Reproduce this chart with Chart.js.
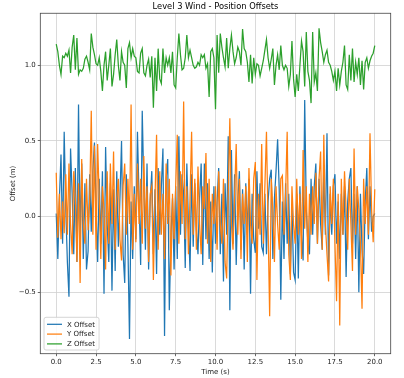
<!DOCTYPE html>
<html><head><meta charset="utf-8">
<script src="https://cdn.jsdelivr.net/npm/chart.js@4.4.1/dist/chart.umd.min.js"></script>
<style>html,body{margin:0;padding:0;background:#fff;}canvas{display:block;}</style>
</head><body>
<canvas id="c" width="404" height="378"></canvas>
<script>
const chartTitle = 'Level 3 Wind - Position Offsets';
const xAxisTitle = 'Time (s)';
const yAxisTitle = 'Offset (m)';
const seriesNames = ['X Offset', 'Y Offset', 'Z Offset'];
const timeStep = 0.1;
const xTickValues = [0, 2.5, 5, 7.5, 10, 12.5, 15, 17.5, 20];
const yTickValues = [-0.5, 0, 0.5, 1.0];

const xOffset = [
0.02,-0.28,0.12,0.41,-0.18,0.56,0.05,-0.30,-0.53,0.45,
0.15,-0.25,0.32,-0.30,0.74,-0.15,0.35,-0.28,0.22,-0.35,
-0.23,0.28,-0.10,0.30,0.49,0.05,-0.30,0.25,-0.18,0.30,
-0.51,0.46,-0.05,-0.30,0.22,-0.49,0.18,-0.36,0.30,-0.20,
0.12,0.50,-0.25,-0.44,0.28,-0.18,-0.81,0.10,-0.28,0.20,
-0.15,0.56,0.12,-0.32,0.70,0.20,-0.22,0.35,-0.35,0.10,
0.30,-0.25,0.18,-0.38,0.32,-0.12,0.20,0.45,-0.79,0.25,
0.38,-0.62,-0.15,0.12,-0.35,0.20,-0.28,0.53,-0.12,0.28,
0.15,-0.34,0.35,-0.05,-0.36,0.28,-0.20,0.22,-0.08,-0.25,
0.12,0.35,-0.32,0.35,-0.15,0.22,-0.28,0.10,-0.37,0.20,
-0.18,0.10,0.32,-0.25,0.15,-0.43,0.22,-0.12,0.53,-0.62,
0.44,-0.18,0.28,-0.32,0.10,0.30,-0.22,0.18,-0.35,0.22,
-0.12,0.25,-0.51,0.15,-0.15,-0.24,0.30,-0.08,0.22,-0.20,
-0.24,0.15,-0.25,0.10,0.25,0.31,-0.28,0.12,0.30,0.51,
0.18,-0.55,0.10,-0.28,0.22,-0.18,0.15,-0.38,0.08,-0.37,
-0.42,0.15,-0.41,0.20,-0.12,-0.29,0.77,0.05,-0.18,-0.25,
0.25,-0.12,0.20,0.35,-0.18,0.25,-0.05,-0.22,0.30,-0.12,
0.55,-0.39,0.15,-0.12,0.20,0.28,-0.18,0.10,-0.28,0.15,
-0.12,0.20,-0.40,0.10,0.25,0.32,-0.18,0.15,-0.28,0.20,
-0.50,0.15,-0.22,-0.38,0.10,0.32,-0.15,0.20,-0.10,0.00,
0.02
];
const yOffset = [
0.29,-0.14,0.15,-0.15,0.10,-0.11,0.28,-0.12,0.35,-0.05,
-0.25,0.30,0.12,-0.30,0.22,-0.44,0.38,-0.05,-0.18,0.25,
-0.09,0.10,0.70,-0.12,0.47,-0.22,0.48,0.12,-0.28,0.20,
0.05,-0.35,0.30,-0.18,0.35,-0.05,0.43,-0.22,0.12,0.25,
-0.15,-0.29,0.20,0.35,-0.12,0.25,-0.05,0.74,-0.22,0.15,
-0.17,0.35,-0.05,0.25,-0.18,0.40,-0.08,0.20,-0.30,0.15,
0.20,-0.42,0.12,0.54,-0.22,0.30,-0.12,0.15,-0.28,0.35,
-0.05,0.25,-0.39,0.15,-0.15,0.20,0.54,-0.18,0.30,-0.05,
0.76,-0.15,0.20,-0.25,0.12,0.56,-0.12,0.25,-0.22,0.33,
-0.05,-0.25,0.20,0.05,0.42,-0.18,0.25,-0.30,0.15,-0.05,
0.20,-0.22,0.30,-0.05,-0.18,0.25,-0.30,-0.41,0.15,0.65,
-0.05,-0.22,0.15,0.48,-0.12,0.25,-0.28,0.15,-0.05,0.20,
-0.30,0.32,-0.05,-0.18,0.25,0.36,-0.42,0.15,-0.12,0.48,
-0.18,0.20,0.56,-0.05,-0.66,0.25,0.05,-0.30,0.20,-0.05,
-0.22,0.25,0.27,-0.12,0.15,0.56,-0.25,-0.42,0.20,-0.05,
-0.18,0.25,-0.12,0.15,-0.28,0.44,-0.08,0.20,-0.30,0.15,
-0.12,0.20,-0.05,0.29,-0.18,0.25,0.43,-0.22,0.54,-0.05,
-0.25,-0.43,0.20,-0.05,0.25,-0.18,-0.56,0.15,-0.72,0.25,
-0.12,0.30,0.05,-0.22,0.25,-0.05,-0.36,0.45,-0.12,0.20,
0.05,-0.18,-0.61,0.25,-0.05,0.20,-0.12,0.55,0.05,-0.17,
0.18
];
const zOffset = [
1.14,1.09,1.00,0.94,1.06,1.05,1.08,1.06,1.10,0.95,
1.12,1.20,0.97,1.18,0.94,0.97,0.96,0.98,1.04,1.06,
1.02,0.97,1.21,1.12,1.07,1.01,1.00,1.05,0.96,0.83,
1.00,1.09,0.90,1.00,1.11,0.86,0.94,1.07,1.17,1.00,
0.90,1.09,1.02,1.00,0.85,1.11,1.15,1.05,1.11,1.06,
1.05,0.96,0.95,1.08,1.11,0.95,0.93,1.00,1.04,0.92,
1.06,0.72,1.05,0.83,1.11,0.91,0.88,1.11,0.95,1.05,
1.00,1.05,0.95,1.09,0.87,0.85,1.05,1.21,1.07,0.97,
0.98,1.05,1.20,1.05,1.10,1.05,1.00,0.98,0.99,1.02,
1.00,1.07,1.05,1.07,0.98,1.01,0.79,1.09,1.11,1.05,
0.71,1.20,0.95,1.21,1.12,1.05,0.99,1.18,0.98,1.11,
1.20,1.09,1.01,1.05,1.12,1.09,1.00,1.24,1.11,1.09,
1.02,0.89,1.07,0.88,1.05,0.94,1.01,1.00,0.93,0.98,
1.03,1.10,1.17,1.05,0.98,1.04,1.11,0.87,1.00,1.07,
0.97,1.13,1.00,0.97,1.00,0.98,0.86,0.94,1.16,0.91,
0.79,0.94,0.83,1.00,1.16,1.09,0.86,1.22,0.96,0.90,
0.75,1.22,0.89,0.95,0.83,1.245,1.15,1.09,1.02,1.07,
1.10,1.02,1.00,0.96,0.90,0.96,0.83,0.98,0.87,0.96,
1.02,1.13,0.87,0.84,1.07,0.90,1.11,0.89,1.02,0.94,
1.05,0.87,1.03,0.84,1.02,1.05,0.98,1.03,1.06,1.08,
1.13
];
const seriesColors = ['#1f77b4', '#ff7f0e', '#2ca02c'];

const times = xOffset.map((_, i) => Math.round(i * timeStep * 100) / 100);
const toPoints = arr => arr.map((v, i) => ({x: times[i], y: v}));
const seriesValues = [xOffset, yOffset, zOffset];

const FONT = "'DejaVu Sans', 'Liberation Sans', sans-serif";
const fmt = v => (v < 0 ? '\u2212' : '') + Math.abs(v).toFixed(1);

const framePlugin = {
  id: 'frame',
  afterDatasetsDraw(chart) {
    const {ctx, chartArea: a} = chart;
    ctx.save();
    ctx.strokeStyle = '#444';
    ctx.lineWidth = 0.8;
    ctx.strokeRect(a.left, a.top, a.right - a.left, a.bottom - a.top);
    ctx.font = '7px ' + FONT;
    const pad = 3, lineLen = 15, gap = 5, rowH = 9.8;
    const textW = Math.max(...seriesNames.map(s => ctx.measureText(s).width));
    const bw = pad + lineLen + gap + textW + pad + 1;
    const bh = rowH * seriesNames.length + 3.3;
    const bx = a.left + 3.7, by = a.bottom - 3.7 - bh;
    ctx.beginPath();
    if (ctx.roundRect) ctx.roundRect(bx, by, bw, bh, 2); else ctx.rect(bx, by, bw, bh);
    ctx.fillStyle = 'rgba(255,255,255,0.85)';
    ctx.fill();
    ctx.strokeStyle = '#cccccc';
    ctx.lineWidth = 0.8;
    ctx.stroke();
    ctx.textBaseline = 'middle';
    ctx.textAlign = 'left';
    seriesNames.forEach((name, i) => {
      const cy = by + 7 + i * rowH;
      ctx.strokeStyle = seriesColors[i];
      ctx.lineWidth = 1.25;
      ctx.beginPath();
      ctx.moveTo(bx + pad, cy);
      ctx.lineTo(bx + pad + lineLen, cy);
      ctx.stroke();
      ctx.fillStyle = '#222';
      ctx.fillText(name, bx + pad + lineLen + gap, cy + 0.5);
    });
    ctx.restore();
  }
};

new Chart(document.getElementById('c'), {
  type: 'line',
  data: {
    datasets: seriesNames.map((name, i) => ({
      label: name,
      data: toPoints(seriesValues[i]),
      borderColor: seriesColors[i],
      backgroundColor: seriesColors[i],
      borderWidth: 1.25,
      pointRadius: 0,
      tension: 0,
      fill: false,
      order: 3 - i
    }))
  },
  options: {
    responsive: false,
    animation: false,
    devicePixelRatio: 1,
    layout: {padding: {top: 0, right: 13.3, bottom: 0, left: 0.3}},
    plugins: {
      legend: {display: false},
      tooltip: {enabled: false},
      title: {
        display: true, text: chartTitle, fullSize: false,
        color: '#000', font: {family: FONT, size: 8.3, weight: 'normal'},
        padding: {top: 2, bottom: 1.3}
      }
    },
    scales: {
      x: {
        type: 'linear', min: -1, max: 21,
        afterFit: s => { s.height = 24.3; },
        afterBuildTicks: s => { s.ticks = xTickValues.map(v => ({value: v})); },
        border: {display: false},
        grid: {color: '#d0d0d0', lineWidth: 0.8, drawTicks: true, tickLength: 2.5, tickColor: '#444', tickWidth: 0.8},
        ticks: {color: '#222', font: {family: FONT, size: 7}, padding: 1.5, maxRotation: 0, autoSkip: false, callback: v => fmt(v)},
        title: {display: true, text: xAxisTitle, color: '#222', font: {family: FONT, size: 7}, padding: {top: 0, bottom: 1.8}}
      },
      y: {
        type: 'linear', min: -0.907, max: 1.344,
        afterFit: s => { s.width = 40; },
        afterBuildTicks: s => { s.ticks = yTickValues.map(v => ({value: v})); },
        border: {display: false},
        grid: {color: '#d0d0d0', lineWidth: 0.8, drawTicks: true, tickLength: 2.5, tickColor: '#444', tickWidth: 0.8},
        ticks: {color: '#222', font: {family: FONT, size: 7}, padding: 2, autoSkip: false, callback: v => fmt(v)},
        title: {display: true, text: yAxisTitle, color: '#222', font: {family: FONT, size: 7}, padding: {top: 8.5, bottom: 0}}
      }
    }
  },
  plugins: [framePlugin]
});
</script>
</body></html>
